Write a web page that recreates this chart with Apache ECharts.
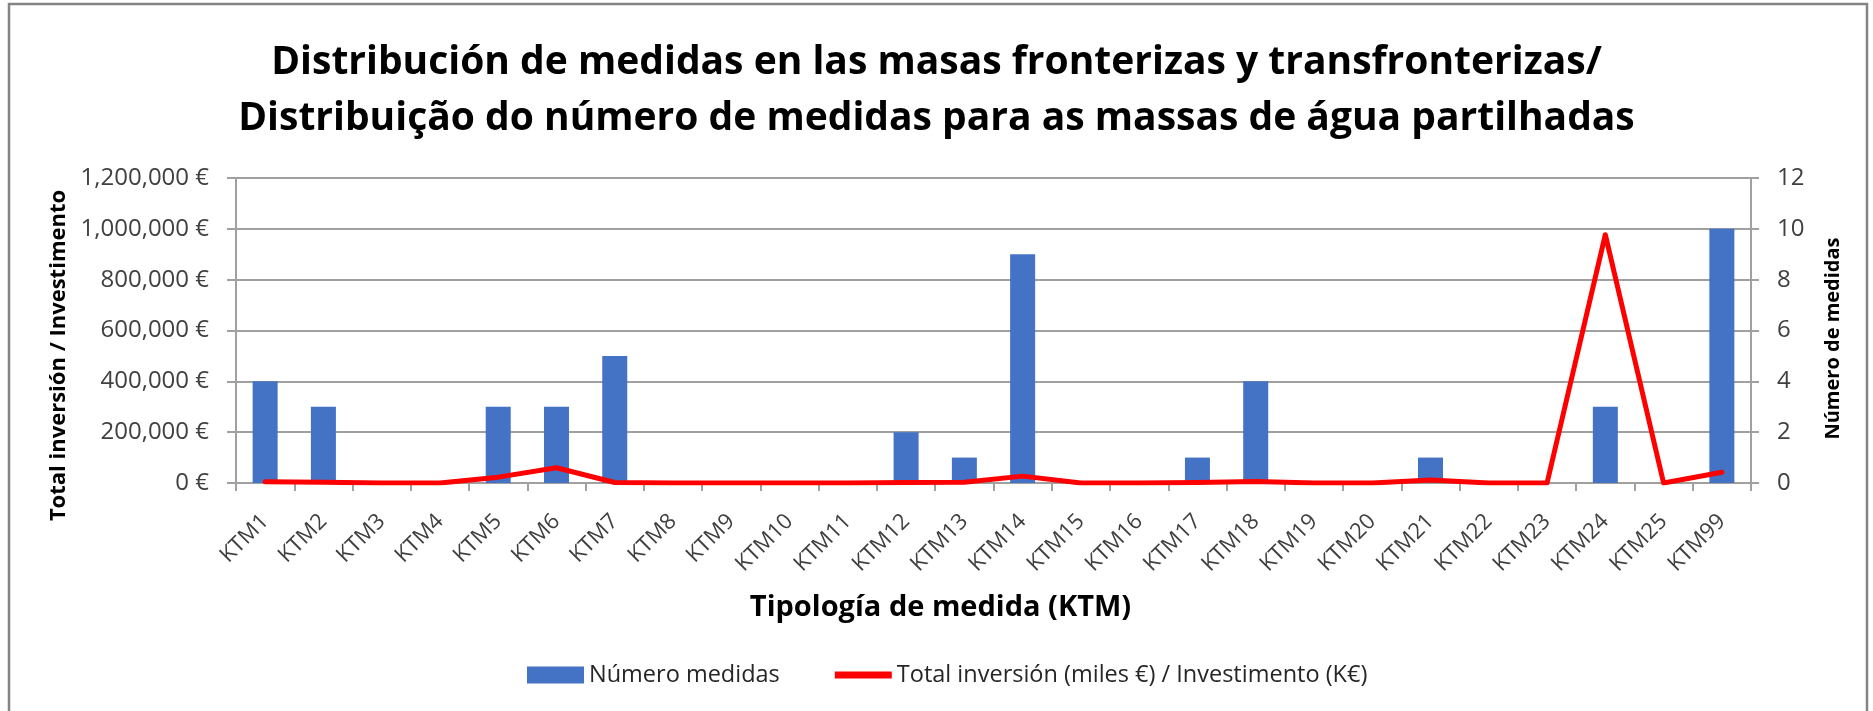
<!DOCTYPE html>
<html>
<head>
<meta charset="utf-8">
<script src="https://cdn.jsdelivr.net/npm/echarts@6/dist/echarts.min.js"></script>
<style>
  html, body { margin: 0; padding: 0; background: #ffffff; }
  #chart { width: 1873px; height: 711px; }
</style>
</head>
<body>
<div id="chart"></div>
<script>
// Measure types (KTM)
const categories = ['KTM1','KTM2','KTM3','KTM4','KTM5','KTM6','KTM7','KTM8','KTM9','KTM10',
  'KTM11','KTM12','KTM13','KTM14','KTM15','KTM16','KTM17','KTM18','KTM19','KTM20',
  'KTM21','KTM22','KTM23','KTM24','KTM25','KTM99'];

// Number of measures per KTM (right axis)
const numeroMedidas = [4,3,0,0,3,3,5,0,0,0,0,2,1,9,0,0,1,4,0,0,1,0,0,3,0,10];

// Total investment per KTM in euros (left axis)
const totalInversion = [5000,3000,0,0,23000,60000,2000,0,0,0,0,2000,3000,27000,0,0,
  2000,6000,0,0,12000,0,0,977000,0,42000];

// Axis tick settings
const leftTicks = { min: 0, max: 1200000, interval: 200000 };
const rightTicks = { min: 0, max: 12, interval: 2 };

const seriesNames = ['Número medidas', 'Total inversión (miles €) / Investimento (K€)'];
const titleLines = [
  'Distribución de medidas en las masas fronterizas y transfronterizas/',
  'Distribuição do número de medidas para as massas de água partilhadas'
];

const FONT = '"Open Sans", "Liberation Sans", sans-serif';
const gridColor = '#a0a0a0';
const tickText = '#404040';

function euro(v) {
  return v.toString().replace(/\B(?=(\d{3})+(?!\d))/g, ',') + ' €';
}

const chart = echarts.init(document.getElementById('chart'), null, { renderer: 'canvas' });

chart.setOption({
  backgroundColor: '#ffffff',
  animation: false,
  title: {
    text: titleLines.join('\n'),
    left: 'center',
    top: 30,
    textStyle: {
      fontFamily: FONT,
      fontWeight: 'bold',
      fontSize: 39,
      lineHeight: 56,
      color: '#000000'
    }
  },
  graphic: [{
    type: 'rect',
    silent: true,
    shape: { x: 9, y: 4, width: 1858, height: 720 },
    style: { fill: 'none', stroke: '#848484', lineWidth: 2.5 }
  }],
  legend: {
    left: 522,
    top: 658,
    itemWidth: 57,
    itemHeight: 17,
    itemGap: 55,
    textStyle: { fontFamily: FONT, fontSize: 23.5, color: '#262626' },
    data: [
      { name: seriesNames[0], icon: 'rect' },
      { name: seriesNames[1], icon: 'path://M0 0H57V7H0Z' }
    ]
  },
  grid: {
    left: 236,
    right: 122,
    top: 178,
    bottom: 228,
    containLabel: false
  },
  xAxis: {
    type: 'category',
    data: categories,
    boundaryGap: true,
    name: 'Tipología de medida (KTM)',
    nameLocation: 'middle',
    nameGap: 110,
    nameTextStyle: {
      fontFamily: FONT, fontWeight: 'bold', fontSize: 29, color: '#000000',
      padding: [0, 106, 0, 0]
    },
    axisLine: { lineStyle: { color: gridColor, width: 2 } },
    axisTick: { show: true, alignWithLabel: false, length: 8, lineStyle: { color: gridColor, width: 2 } },
    axisLabel: {
      rotate: 45,
      margin: 35,
      interval: 0,
      fontFamily: FONT,
      fontSize: 22,
      color: tickText
    }
  },
  yAxis: [{
    type: 'value',
    min: leftTicks.min,
    max: leftTicks.max,
    interval: leftTicks.interval,
    name: 'Total inversión / Investimento',
    nameLocation: 'middle',
    nameRotate: 90,
    nameGap: 166,
    nameTextStyle: {
      fontFamily: FONT, fontWeight: 'bold', fontSize: 22, color: '#000000',
      padding: [0, 50, 0, 0]
    },
    axisLine: { show: true, lineStyle: { color: gridColor, width: 2 } },
    axisTick: { show: true, inside: false, length: 9, lineStyle: { color: gridColor, width: 2 } },
    splitLine: { show: true, lineStyle: { color: gridColor, width: 2 } },
    axisLabel: {
      margin: 27,
      fontFamily: FONT,
      fontSize: 24,
      color: tickText,
      formatter: euro
    }
  }, {
    type: 'value',
    position: 'right',
    min: rightTicks.min,
    max: rightTicks.max,
    interval: rightTicks.interval,
    name: 'Número de medidas',
    nameLocation: 'middle',
    nameRotate: 90,
    nameGap: 72,
    nameTextStyle: {
      fontFamily: FONT, fontWeight: 'bold', fontSize: 20, color: '#000000',
      padding: [0, 16, 0, 0]
    },
    axisLine: { show: true, lineStyle: { color: gridColor, width: 2 } },
    axisTick: { show: true, inside: false, length: 8, lineStyle: { color: gridColor, width: 2 } },
    splitLine: { show: false },
    axisLabel: {
      margin: 26,
      fontFamily: FONT,
      fontSize: 24,
      color: tickText
    }
  }],
  series: [{
    name: seriesNames[0],
    type: 'bar',
    yAxisIndex: 1,
    data: numeroMedidas,
    barWidth: 25,
    itemStyle: { color: '#4472C4' },
    z: 2
  }, {
    name: seriesNames[1],
    type: 'line',
    yAxisIndex: 0,
    data: totalInversion,
    symbol: 'none',
    smooth: false,
    lineStyle: { color: '#FF0000', width: 5, cap: 'round', join: 'round' },
    itemStyle: { color: '#FF0000' },
    z: 3
  }]
});
</script>
</body>
</html>
